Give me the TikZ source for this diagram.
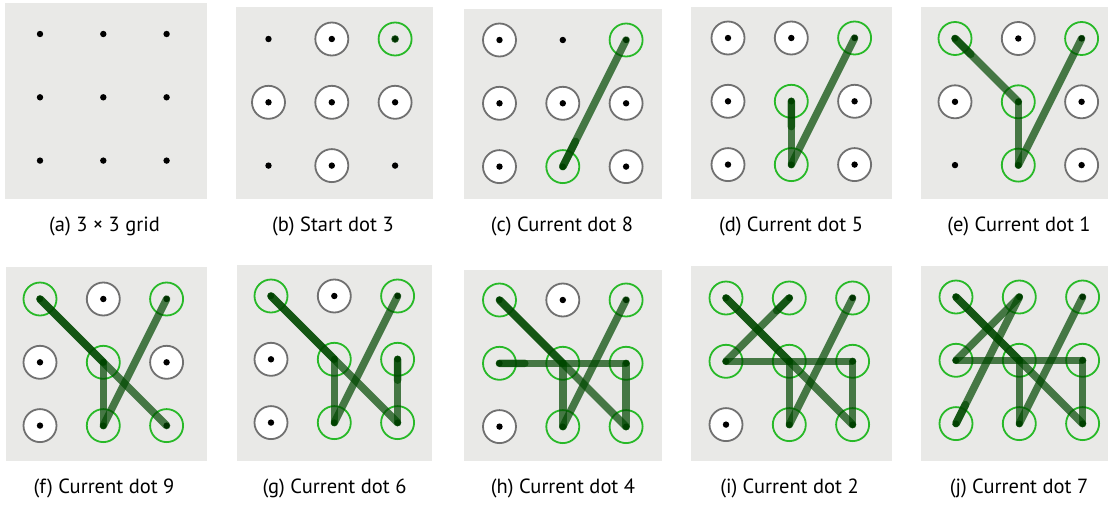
\documentclass[tikz,border=0pt]{standalone}
\usepackage{fontspec}
\setmainfont{PT Sans}
\usetikzlibrary{calc}
\definecolor{panelbg}{RGB}{233,233,231}
\definecolor{ringgray}{RGB}{112,112,112}
\definecolor{ringgreen}{RGB}{40,185,40}
\definecolor{pathgreen}{RGB}{0,72,0}
\tikzset{
  panel/.style={fill=panelbg, draw=none},
  grayring/.style={circle, draw=ringgray, fill=white, line width=1.8pt, minimum size=33pt, inner sep=0pt},
  greenring/.style={circle, draw=ringgreen, line width=1.8pt, minimum size=33pt, inner sep=0pt},
  dotnode/.style={circle, fill=black, minimum size=6.4pt, inner sep=0pt},
  pline/.style={draw=pathgreen, line width=7.5pt, line cap=round, opacity=0.7},
  blob/.style={fill=pathgreen, opacity=0.7},
  captext/.style={font=\fontsize{20.5}{24}\selectfont, inner sep=0pt, anchor=base}
}
\newcommand\gridpts[3]{%
  \foreach \r in {0,1,2}{\foreach \c in {1,2,3}{%
    \pgfmathtruncatemacro\k{3*\r+\c}%
    \coordinate (#1\k) at ({#2+(\c-1)*63.3},{#3+\r*63.3});}}}
\newcommand\grayrings[2]{\foreach \k in {#2}{\node[grayring] (#1g\k) at (#1\k) {};}}
\newcommand\greenrings[2]{\foreach \k in {#2}{\node[greenring] (#1q\k) at (#1\k) {};}}
\newcommand\alldots[1]{\foreach \k in {1,...,9}{\node[dotnode] (#1d\k) at (#1\k) {};}}
\begin{document}
\begin{tikzpicture}[x=1pt,y=-1pt]
\useasboundingbox (0,0) rectangle (1108,504);
% ---------- row 1 ----------
% (a)
\fill[panel] (5,3) rectangle (207,199);
\gridpts{a}{40}{34}
\alldots{a}
\node[captext] (capa) at (104.5,231) {(a) 3 × 3 grid};
% (b)
\fill[panel] (236,7) rectangle (433,199);
\gridpts{b}{268.5}{39}
\grayrings{b}{2,4,5,6,8}
\greenrings{b}{3}
\alldots{b}
\fill[blob] (b3) circle (3.9);
\node[captext] (capb) at (333,231) {(b) Start dot 3};
% (c)
\fill[panel] (464,9) rectangle (662,199);
\gridpts{c}{499.5}{40}
\grayrings{c}{1,4,5,6,7,9}
\greenrings{c}{3,8}
\alldots{c}
\draw[pline] (c3) -- (c8);
\draw[pline] (c8) -- ($(c8)!0.2!(c3)$);
\node[captext] (capc) at (562,231) {(c) Current dot 8};
% (d)
\fill[panel] (691,7) rectangle (892,199);
\gridpts{d}{728}{38}
\grayrings{d}{1,2,4,6,7,9}
\greenrings{d}{3,5,8}
\alldots{d}
\draw[pline] (d3) -- (d8);
\draw[pline] (d8) -- (d5);
\draw[pline] (d5) -- ($(d5)!0.4!(d8)$);
\node[captext] (capd) at (791,231) {(d) Current dot 5};
% (e)
\fill[panel] (921,7) rectangle (1108,199);
\gridpts{e}{955}{38.5}
\grayrings{e}{2,4,6,9}
\greenrings{e}{1,3,5,8}
\alldots{e}
\draw[pline] (e3) -- (e8);
\draw[pline] (e8) -- (e5);
\draw[pline] (e5) -- (e1);
\draw[pline] (e1) -- ($(e1)!0.25!(e5)$);
\node[captext] (cape) at (1019,231) {(e) Current dot 1};
% ---------- row 2 ----------
% (f)
\fill[panel] (6,267) rectangle (207,461);
\gridpts{f}{40}{299}
\grayrings{f}{2,4,6,7}
\greenrings{f}{1,3,5,8,9}
\alldots{f}
\draw[pline] (f3) -- (f8);
\draw[pline] (f8) -- (f5);
\draw[pline] (f5) -- (f1);
\draw[pline] (f1) -- (f9);
\node[captext] (capf) at (104,493) {(f) Current dot 9};
% (g)
\fill[panel] (237,265) rectangle (432,461);
\gridpts{g}{271}{296}
\grayrings{g}{2,4,7}
\greenrings{g}{1,3,5,6,8,9}
\alldots{g}
\draw[pline] (g3) -- (g8);
\draw[pline] (g8) -- (g5);
\draw[pline] (g5) -- (g1);
\draw[pline] (g1) -- (g9);
\draw[pline] (g9) -- (g6);
\draw[pline] (g6) -- ($(g6)!0.33!(g9)$);
\node[captext] (capg) at (334.5,493) {(g) Current dot 6};
% (h)
\fill[panel] (464,270) rectangle (662,461);
\gridpts{h}{499.5}{300}
\grayrings{h}{2,7}
\greenrings{h}{1,3,4,5,6,8,9}
\alldots{h}
\draw[pline] (h3) -- (h8);
\draw[pline] (h8) -- (h5);
\draw[pline] (h5) -- (h1);
\draw[pline] (h1) -- (h9);
\draw[pline] (h9) -- (h6);
\draw[pline] (h6) -- (h4);
\draw[pline] (h4) -- ($(h4)!0.2!(h6)$);
\node[captext] (caph) at (563,493) {(h) Current dot 4};
% (i)
\fill[panel] (691,266) rectangle (892,461);
\gridpts{i}{726}{298}
\grayrings{i}{7}
\greenrings{i}{1,2,3,4,5,6,8,9}
\alldots{i}
\draw[pline] (i3) -- (i8);
\draw[pline] (i8) -- (i5);
\draw[pline] (i5) -- (i1);
\draw[pline] (i1) -- (i9);
\draw[pline] (i9) -- (i6);
\draw[pline] (i6) -- (i4);
\draw[pline] (i4) -- (i2);
\draw[pline] (i2) -- ($(i2)!0.2!(i4)$);
\node[captext] (capi) at (789.5,493) {(i) Current dot 2};
% (j)
\fill[panel] (921,266) rectangle (1108,461);
\gridpts{j}{956}{297}
\greenrings{j}{1,2,3,4,5,6,7,8,9}
\alldots{j}
\draw[pline] (j3) -- (j8);
\draw[pline] (j8) -- (j5);
\draw[pline] (j5) -- (j1);
\draw[pline] (j1) -- (j9);
\draw[pline] (j9) -- (j6);
\draw[pline] (j6) -- (j4);
\draw[pline] (j4) -- (j2);
\draw[pline] (j2) -- (j7);
\draw[pline] (j7) -- ($(j7)!0.15!(j2)$);
\node[captext] (capj) at (1019,493) {(j) Current dot 7};
\end{tikzpicture}
\end{document}
